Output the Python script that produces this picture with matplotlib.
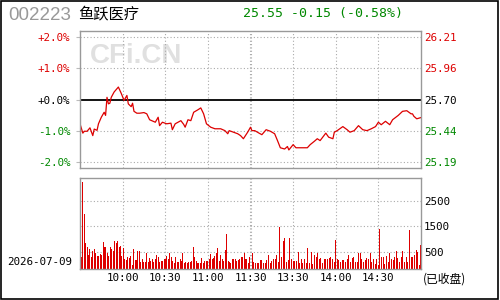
import numpy as np
import matplotlib
matplotlib.use("Agg")
import matplotlib.pyplot as plt
from matplotlib.patches import Rectangle

# --- datos ---
CODE = "002223"
NAME = "鱼跃医疗"
QUOTE = "25.55 -0.15 (-0.58%)"
DATE = "2026-07-09"
PREV_CLOSE = 25.70

# minuto de sesión (0 = 9:30, 120 = 11:30/13:00, 240 = 15:00) y variación en %
price_min = [0, 2, 3, 5, 7, 9, 10, 12, 13, 15, 17, 18, 19, 20, 21, 22, 24, 27, 29, 31,
             33, 34, 36, 37, 38, 40, 42, 45, 47, 49, 53, 55, 56, 58, 61, 64, 65, 67, 71, 73,
             74, 76, 78, 80, 83, 85, 87, 89, 92, 95, 99, 102, 104, 105, 108, 111, 113, 115, 118, 120,
             121, 123, 126, 128, 131, 134, 137, 139, 141, 144, 146, 147, 150, 152, 155, 160, 162, 165, 167, 169,
             173, 175, 178, 179, 181, 185, 188, 190, 193, 196, 199, 202, 205, 208, 210, 212, 215, 218, 220, 224,
             227, 230, 233, 234, 235, 237, 240]
price_pct = [-0.78, -1.08, -1.02, -1.02, -0.91, -1.16, -0.95, -0.99, -0.78, -0.57, -0.41, -0.51, 0.07, -0.14, -0.12, 0.07, 0.24, 0.40, 0.20, -0.03,
             0.13, -0.14, -0.23, -0.12, -0.38, -0.44, -0.44, -0.42, -0.46, -0.65, -0.73, -0.57, -0.84, -0.73, -0.78, -0.76, -0.97, -0.78, -0.68, -0.80,
             -0.89, -0.65, -0.68, -0.41, -0.33, -0.27, -0.46, -0.78, -0.89, -0.94, -0.94, -1.00, -1.10, -1.00, -1.05, -1.10, -1.16, -1.26, -1.05, -0.89,
             -1.00, -1.00, -1.08, -1.13, -0.97, -1.02, -1.10, -1.32, -1.55, -1.59, -1.51, -1.62, -1.45, -1.55, -1.55, -1.55, -1.45, -1.34, -1.26, -1.32,
             -1.08, -1.21, -1.26, -1.05, -1.00, -0.87, -0.97, -1.05, -1.00, -0.84, -0.97, -1.00, -0.94, -0.87, -0.73, -0.81, -0.70, -0.81, -0.65, -0.51,
             -0.38, -0.36, -0.46, -0.46, -0.54, -0.62, -0.58]

# volumen por minuto (mañana / tarde)
vol_am = [318, 3236, 1978, 862, 681, 383, 603, 292, 551, 603, 473, 344, 344, 422, 383, 901, 694, 694, 473, 344,
          694, 616, 551, 927, 862, 927, 694, 733, 344, 655, 214, 188, 292, 253, 344, 0, 616, 188, 188, 538,
          538, 123, 214, 123, 123, 447, 110, 253, 162, 214, 110, 214, 370, 292, 110, 136, 162, 214, 240, 344,
          240, 447, 292, 162, 84, 292, 110, 110, 214, 136, 447, 84, 110, 84, 110, 110, 162, 694, 292, 162,
          58, 58, 58, 266, 84, 162, 162, 162, 214, 422, 214, 266, 344, 447, 655, 162, 370, 214, 162, 577,
          1200, 162, 110, 84, 214, 214, 240, 136, 188, 214, 292, 292, 473, 214, 214, 84, 292]
vol_pm = [473, 110, 58, 58, 58, 188, 188, 84, 84, 188, 370, 58, 162, 214, 214, 383, 110, 1472, 292, 940,
          1044, 110, 188, 1044, 214, 162, 162, 162, 499, 58, 214, 84, 214, 84, 655, 58, 499, 32, 383, 292,
          447, 214, 253, 58, 214, 214, 214, 253, 292, 214, 110, 966, 214, 188, 110, 188, 188, 110, 214, 383,
          110, 253, 292, 110, 110, 473, 447, 214, 110, 188, 253, 214, 447, 110, 214, 32, 214, 0, 1381, 292,
          292, 32, 344, 110, 473, 240, 188, 292, 538, 253, 110, 292, 538, 110, 292, 110, 1355, 292, 292, 370,
          577, 499, 0, 759]

pct_ticks = [2, 1, 0, -1, -2]
pct_labels = ["+2.0%", "+1.0%", "+0.0%", "-1.0%", "-2.0%"]
price_labels = [f"{PREV_CLOSE * (1 + p / 100):.2f}" for p in pct_ticks]
vol_ticks = [500, 1500, 2500]
time_ticks = [30, 60, 90, 120, 150, 180, 210]
time_labels = ["10:00", "10:30", "11:00", "11:30", "13:30", "14:00", "14:30"]

# --- estilo ---
ROJO = "#dd0000"
VERDE = "#008800"
GRIS = "#999999"
GRID = dict(color="#aaaaaa", ls=(0, (1, 2)), lw=0.8)
MONO = "DejaVu Sans Mono"
CJK = ["Noto Sans CJK SC", "DejaVu Sans"]

W, H = 500, 300
fig = plt.figure(figsize=(5, 3), dpi=100)


def fx(x):
    return x / W


def fy(y):
    return 1 - y / H


ax = fig.add_axes([fx(80), fy(168), fx(421) - fx(80), fy(31) - fy(168)])
axv = fig.add_axes([fx(80), fy(269), fx(421) - fx(80), fy(178) - fy(269)])

for a in (ax, axv):
    for s in a.spines.values():
        s.set_color(GRIS)
        s.set_linewidth(1.0)
    a.set_xlim(0, 240)
    for t in time_ticks:
        if t == 120:
            a.axvline(119.4, **GRID)
            a.axvline(120.6, **GRID)
        else:
            a.axvline(t, **GRID)

# panel de precio
ax.set_ylim(-2.2, 2.2)
for p in pct_ticks:
    if p == 0:
        ax.axhline(0, color="black", lw=1.3)
    else:
        ax.axhline(p, **GRID)
ax.plot(price_min, price_pct, color=ROJO, lw=0.9)
ax.set_xticks([])
ax.set_yticks(pct_ticks)
ax.set_yticklabels(pct_labels, family=MONO, fontsize=7.8)
ax.tick_params(axis="y", length=3, color="#bbbbbb", pad=4)
colores = [ROJO, ROJO, "black", VERDE, VERDE]
for lbl, c in zip(ax.get_yticklabels(), colores):
    lbl.set_color(c)

axr = ax.twinx()
axr.set_ylim(ax.get_ylim())
axr.set_yticks(pct_ticks)
axr.set_yticklabels(price_labels, family=MONO, fontsize=7.8)
axr.tick_params(axis="y", length=0, pad=2)
for s in axr.spines.values():
    s.set_visible(False)
for lbl, c in zip(axr.get_yticklabels(), colores):
    lbl.set_color(c)

ax.text(0.03, 0.82, "CFi.CN", transform=ax.transAxes, fontsize=20,
        fontweight="bold", family="Liberation Sans", color="#e0e0e0",
        va="center", ha="left", zorder=0)

# panel de volumen
VMIN = -160
axv.set_ylim(VMIN, 3380)
for v in vol_ticks:
    axv.axhline(v, **GRID)
x_am = np.linspace(0.5, 119.2, len(vol_am))
x_pm = np.linspace(120.8, 239.6, len(vol_pm))
axv.vlines(x_am, VMIN, vol_am, color=ROJO, lw=0.5, antialiased=False)
axv.vlines(x_pm, VMIN, vol_pm, color=ROJO, lw=0.5, antialiased=False)
axv.set_yticks([])
axv.set_xticks(time_ticks)
axv.set_xticklabels(time_labels, family=MONO, fontsize=7.8)
axv.tick_params(axis="x", length=0, pad=3)

axvr = axv.twinx()
axvr.set_ylim(axv.get_ylim())
axvr.set_yticks(vol_ticks)
axvr.set_yticklabels([str(v) for v in vol_ticks], family=MONO, fontsize=7.8)
axvr.tick_params(axis="y", length=0, pad=2)
for s in axvr.spines.values():
    s.set_visible(False)

# cabecera y textos sueltos
fig.text(fx(8), fy(15), CODE, fontsize=13.5, family="Liberation Sans",
         color=GRIS, va="center", ha="left")
fig.text(fx(78), fy(14), NAME, fontsize=11, family=CJK, va="center", ha="left")
fig.text(fx(243), fy(14), QUOTE, fontsize=9.5, family=MONO, color=VERDE,
         va="center", ha="left")
fig.text(fx(7), fy(262), DATE, fontsize=7.8, family=MONO, va="center", ha="left")
fig.text(fx(423), fy(279), "(已收盘)", fontsize=8.5, family=CJK,
         va="center", ha="left")

fig.patches.append(Rectangle((0.002, 0.004), 0.994, 0.993, transform=fig.transFigure,
                             fill=False, edgecolor="black", lw=1.2))

fig.savefig("out.png", dpi=100)
